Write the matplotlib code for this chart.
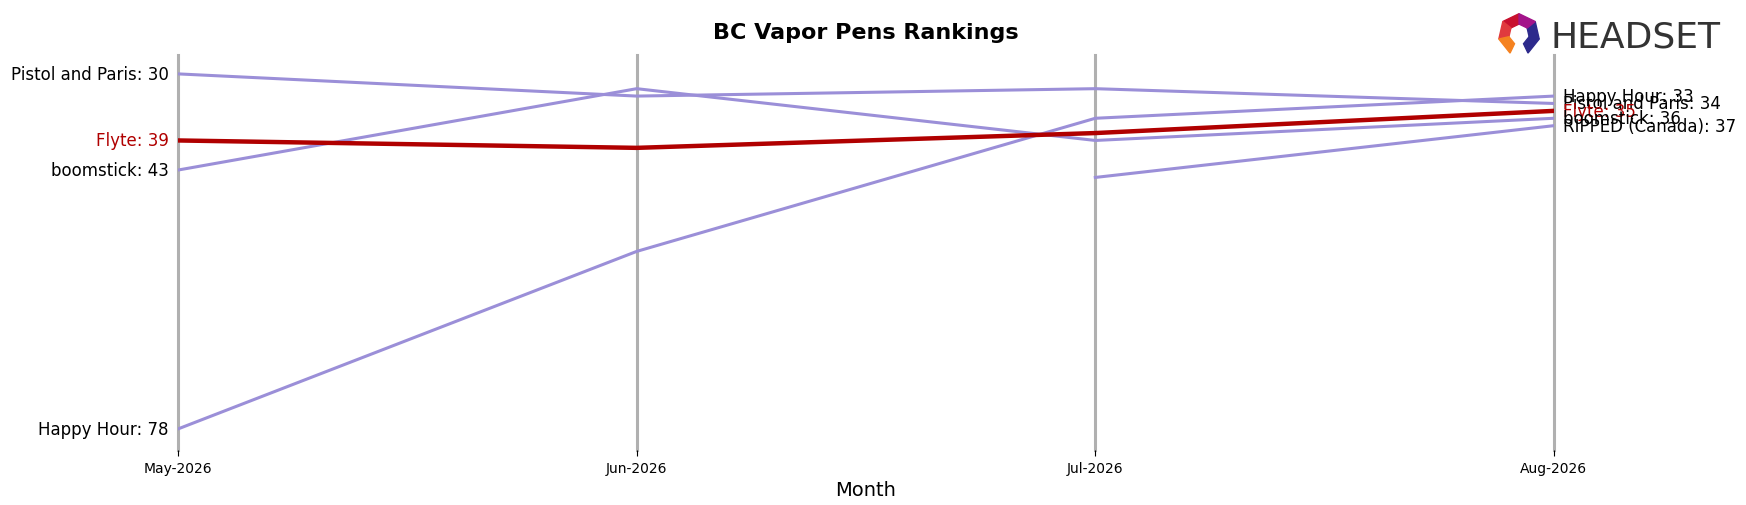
import matplotlib.pyplot as plt
import numpy as np

months = ["May-2026", "Jun-2026", "Jul-2026", "Aug-2026"]
brands = ["Pistol and Paris", "Flyte", "boomstick", "Happy Hour", "RIPPED (Canada)"]
ranks = {
    "Pistol and Paris": [30, 33, 32, 34],
    "Flyte": [39, 40, 38, 35],
    "boomstick": [43, 32, 39, 36],
    "Happy Hour": [78, 54, 36, 33],
    "RIPPED (Canada)": [None, None, 44, 37],
}
highlight = "Flyte"

fig = plt.figure(figsize=(17.46, 5.06), dpi=100)
ax = fig.add_axes([0.102, 0.108, 0.788, 0.782])
x = np.arange(len(months))

for i in x:
    ax.axvline(i, color="#b0b0b0", lw=2.2, zorder=0, clip_on=False)

for b in brands:
    vals = ranks[b]
    pts = [(i, v) for i, v in enumerate(vals) if v is not None]
    xs, ys = zip(*pts)
    hl = b == highlight
    ax.plot(xs, ys, color="#b00000" if hl else "#9b8fd8", lw=3.2 if hl else 2.2,
            zorder=3 if hl else 2)
    col = "#b00000" if hl else "black"
    if vals[0] is not None:
        ax.text(-0.02, vals[0], f"{b}: {vals[0]}", ha="right", va="center", fontsize=12, color=col)
    ax.text(3.02, vals[-1], f"{b}: {vals[-1]}", ha="left", va="center", fontsize=12, color=col)

ax.set_ylim(80.9, 27.4)
ax.set_xlim(0, 3)
ax.set_xticks(x)
ax.set_xticklabels(months, fontsize=10)
ax.set_yticks([])
for s in ax.spines.values():
    s.set_visible(False)
ax.tick_params(axis="x", length=4)
ax.set_xlabel("Month", fontsize=14)
ax.set_title("BC Vapor Pens Rankings", fontsize=16, fontweight="bold", pad=12)

# logo
fig.text(0.888, 0.925, "HEADSET", fontsize=26, color="#333333",
         va="center", ha="left")
lx = fig.add_axes([0.855, 0.885, 0.03, 0.09])
lx.axis("off")
ang = np.linspace(0, 2 * np.pi, 8)[:-1] + np.pi / 2
cols = ["#c8102e", "#e03a3e", "#f58220", "#5b5bd6", "#2d2a8c", "#2d2a8c", "#a3148a"]
for k in range(7):
    a0, a1 = ang[k], ang[(k + 1) % 7]
    poly = [(np.cos(a0), np.sin(a0)), (np.cos(a1), np.sin(a1)),
            (0.5 * np.cos(a1), 0.5 * np.sin(a1)), (0.5 * np.cos(a0), 0.5 * np.sin(a0))]
    if k == 3:
        continue
    lx.add_patch(plt.Polygon(poly, color=cols[k]))
lx.set_xlim(-1.1, 1.1)
lx.set_ylim(-1.1, 1.1)
lx.set_aspect("equal")

fig.savefig("out.png")
